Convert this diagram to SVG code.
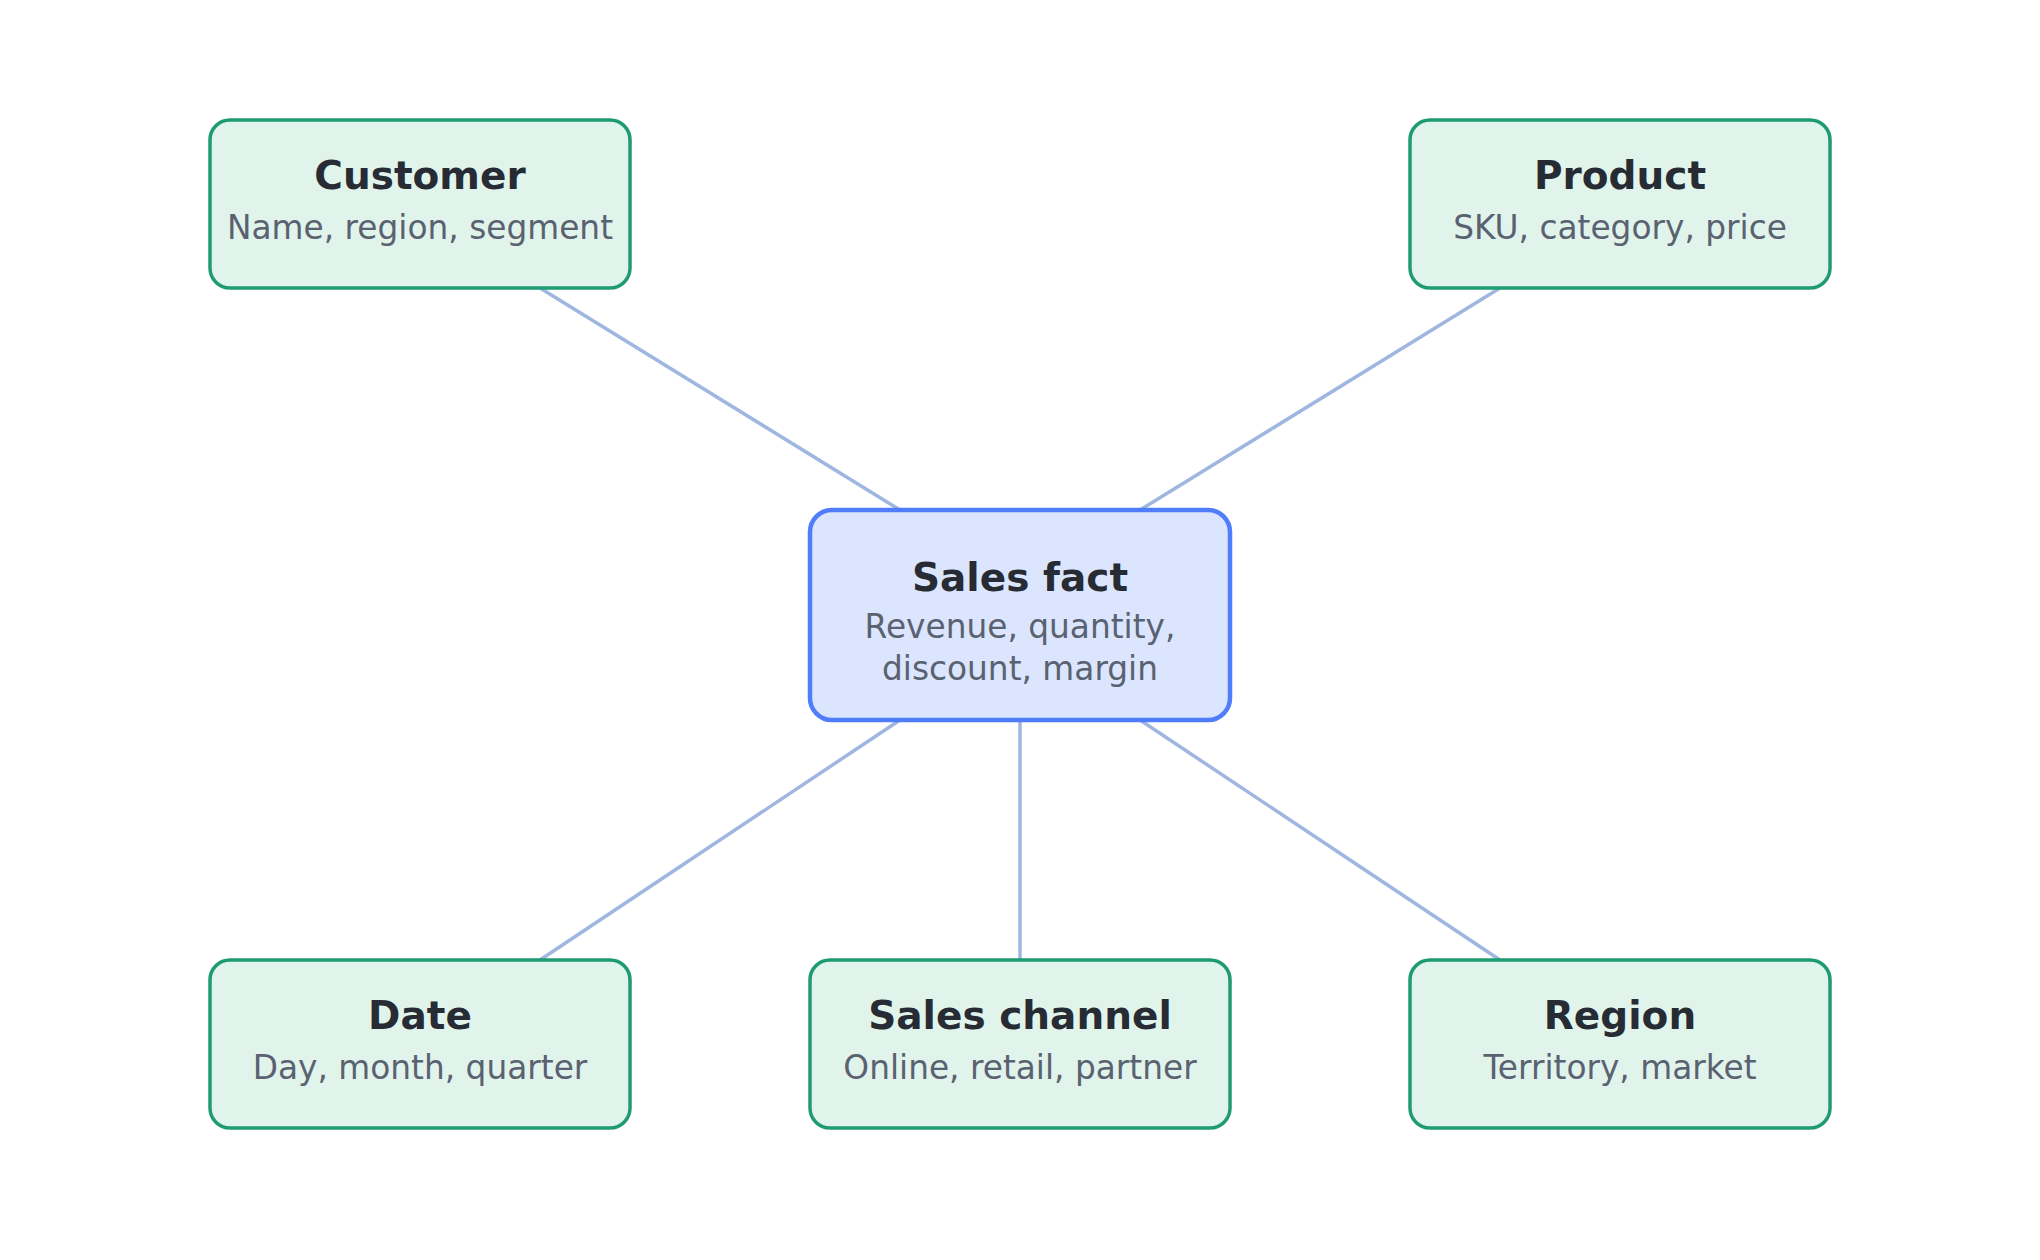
<svg xmlns="http://www.w3.org/2000/svg" width="2040" height="1260" viewBox="0 0 2040 1260">
<style>
.dim rect{fill:#e1f4ec;stroke:#1e9b70;stroke-width:3.5}
.fact rect{fill:#dbe6fe;stroke:#4f7dfb;stroke-width:4.5}
.t{font-family:"DejaVu Sans",sans-serif;font-weight:bold;font-size:39px;fill:#272b33;text-anchor:middle}
.s{font-family:"DejaVu Sans",sans-serif;font-size:32.8px;fill:#5a6271;text-anchor:middle}
#connectors line{stroke:#9fb7e0;stroke-width:3.5;fill:none}
</style>
<rect width="2040" height="1260" fill="#ffffff"/>
<g id="connectors">
<line x1="540" y1="288" x2="900" y2="510"/>
<line x1="1500" y1="288" x2="1140" y2="510"/>
<line x1="900" y1="720" x2="540" y2="960"/>
<line x1="1020" y1="720" x2="1020" y2="960"/>
<line x1="1140" y1="720" x2="1500" y2="960"/>
</g>
<g id="customer" class="dim">
<rect x="210" y="120" width="420" height="168" rx="20"/>
<text class="t" x="420" y="189">Customer</text>
<text class="s" x="420" y="239">Name, region, segment</text>
</g>
<g id="product" class="dim">
<rect x="1410" y="120" width="420" height="168" rx="20"/>
<text class="t" x="1620" y="189">Product</text>
<text class="s" x="1620" y="239">SKU, category, price</text>
</g>
<g id="sales-fact" class="fact">
<rect x="810" y="510" width="420" height="210" rx="22"/>
<text class="t" x="1020" y="591">Sales fact</text>
<text class="s" x="1020" y="638">Revenue, quantity,</text>
<text class="s" x="1020" y="680">discount, margin</text>
</g>
<g id="date" class="dim">
<rect x="210" y="960" width="420" height="168" rx="20"/>
<text class="t" x="420" y="1029">Date</text>
<text class="s" x="420" y="1079">Day, month, quarter</text>
</g>
<g id="sales-channel" class="dim">
<rect x="810" y="960" width="420" height="168" rx="20"/>
<text class="t" x="1020" y="1029">Sales channel</text>
<text class="s" x="1020" y="1079">Online, retail, partner</text>
</g>
<g id="region" class="dim">
<rect x="1410" y="960" width="420" height="168" rx="20"/>
<text class="t" x="1620" y="1029">Region</text>
<text class="s" x="1620" y="1079">Territory, market</text>
</g>
</svg>
